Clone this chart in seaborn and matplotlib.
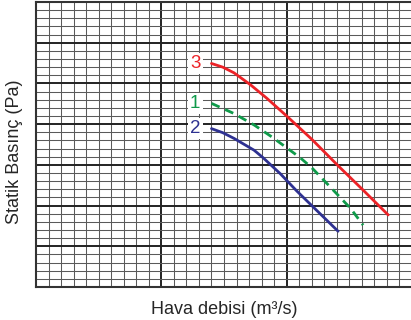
import numpy as np
import pandas as pd
import matplotlib
matplotlib.use("Agg")
import matplotlib.pyplot as plt
import seaborn as sns

# Data (arbitrary units, grid 0..3 x 0..7)
x3 = [1.40, 1.49, 1.58, 1.71, 1.84, 2.00, 2.20, 2.41, 2.61, 2.81]
y3 = [5.49, 5.40, 5.26, 4.97, 4.64, 4.20, 3.63, 2.98, 2.38, 1.77]
x1 = [1.40, 1.58, 1.74, 1.88, 2.00, 2.11, 2.20, 2.35, 2.51, 2.61]
y1 = [4.51, 4.26, 3.98, 3.69, 3.42, 3.17, 2.93, 2.45, 1.93, 1.52]
x2 = [1.40, 1.49, 1.58, 1.74, 1.81, 1.95, 2.08, 2.21, 2.41]
y2 = [3.89, 3.79, 3.65, 3.36, 3.18, 2.78, 2.36, 1.97, 1.37]
curve_labels = ["3", "1", "2"]
colors = {"3": "#ec2227", "1": "#0f9a4a", "2": "#2e3191"}

xlabel = "Hava debisi (m³/s)"
ylabel = "Statik Basınç (Pa)"

sns.set_style("white")
plt.rcParams['font.family'] = ['Liberation Sans', 'DejaVu Sans']

fig = plt.figure(figsize=(4.11, 3.20), dpi=100)
ax = fig.add_axes([36/411, 33/320, 376/411, 285/320])

# grid
for xv in np.arange(0, 3.001, 0.1):
    major = abs(xv - round(xv)) < 1e-6
    ax.axvline(xv, color="#222222" if major else "#5a5a5a",
               lw=1.4 if major else 0.75, zorder=1)
for yv in np.arange(0, 7.001, 0.2):
    major = abs(yv - round(yv)) < 1e-6
    ax.axhline(yv, color="#222222" if major else "#5a5a5a",
               lw=1.4 if major else 0.75, zorder=1)

df = pd.concat([
    pd.DataFrame({"x": x3, "y": y3, "c": "3"}),
    pd.DataFrame({"x": x1, "y": y1, "c": "1"}),
    pd.DataFrame({"x": x2, "y": y2, "c": "2"}),
])
for lab in curve_labels:
    d = df[df.c == lab]
    sns.lineplot(data=d, x="x", y="y", ax=ax, color=colors[lab], lw=2.0,
                 linestyle=(0, (3.2, 2.2)) if lab == "1" else "-",
                 zorder=3, estimator=None, sort=False,
                 solid_joinstyle="round", dash_joinstyle="round")
    ax.text(d.x.iloc[0] - 0.13, d.y.iloc[0], lab, color=colors[lab],
            fontsize=13.5, ha="center", va="center", zorder=4,
            bbox=dict(boxstyle="square,pad=0.12", fc="white", ec="none"))

ax.set_xlim(0, 3)
ax.set_ylim(0, 7)
ax.set_xticks([])
ax.set_yticks([])
ax.set_xlabel(xlabel, fontsize=13, labelpad=10)
ax.set_ylabel(ylabel, fontsize=13)
ax.yaxis.set_label_coords(-0.035, 0.475)
for s in ["left", "bottom", "top"]:
    ax.spines[s].set_color("#333333")
    ax.spines[s].set_linewidth(1.5)
ax.spines["right"].set_visible(False)

fig.savefig("out.png", dpi=100)
